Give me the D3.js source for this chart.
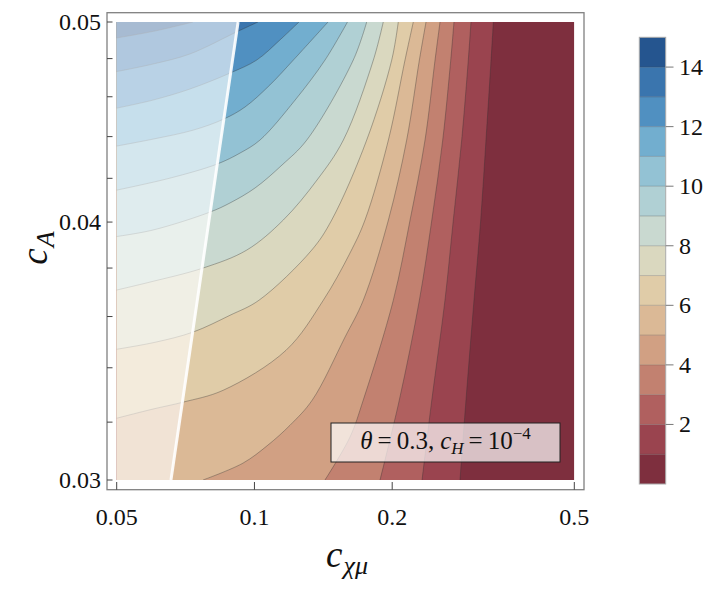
<!DOCTYPE html>
<html>
<head>
<meta charset="utf-8">
<script src="https://cdn.jsdelivr.net/npm/d3@7"></script>
<style>
body { margin: 0; background: #fff; }
text { font-family: "Liberation Serif", "Times New Roman", Times, serif; fill: #111; }
</style>
</head>
<body>
<div id="chart"></div>
<script>
// contour levels and the colours of the bands between them (0-1 ... 14-15)
const levels = [1, 2, 3, 4, 5, 6, 7, 8, 9, 10, 11, 12, 13, 14];
const bandColors = ["#7e2f3e", "#9a444f", "#b0605f", "#c28170", "#d1a083", "#dbb996", "#e0cca8",
    "#dad8bf", "#c9d9d0", "#b0d0d4", "#93c2d4", "#72aecf", "#5090c1", "#3a75ae", "#25558f"];

// iso-lines, [c_chi_mu, c_A], from the lower/left edge to the top edge
const iso1 = [[0.2813, 0.03], [0.2899, 0.0328], [0.3018, 0.03666], [0.3122, 0.04009], [0.3206, 0.04383], [0.3289, 0.04792], [0.3327, 0.05]];
const iso2 = [[0.2324, 0.03], [0.2441, 0.0328], [0.2608, 0.03666], [0.2720, 0.04009], [0.2837, 0.04383], [0.2933, 0.04792], [0.2973, 0.05]];
const iso3 = [[0.1881, 0.03], [0.2073, 0.0328], [0.2293, 0.03666], [0.2441, 0.04009], [0.2579, 0.04383], [0.2685, 0.04792], [0.2729, 0.05]];
const iso4 = [[0.1426, 0.03], [0.1617, 0.03147], [0.1729, 0.0328], [0.2011, 0.03666], [0.2188, 0.04009], [0.2359, 0.04383], [0.2481, 0.04792], [0.2544, 0.05]];
const iso5 = [[0.0772, 0.03], [0.0944, 0.03057], [0.1070, 0.03119], [0.1196, 0.03189], [0.1338, 0.0328], [0.1577, 0.03518], [0.1729, 0.03666], [0.1962, 0.04009], [0.2151, 0.04383], [0.2293, 0.04792], [0.2371, 0.05]];
const iso6 = [[0.05, 0.03214], [0.0600, 0.03247], [0.0698, 0.03272], [0.0855, 0.03316], [0.1172, 0.03467], [0.1414, 0.03666], [0.1617, 0.03864], [0.1744, 0.04009], [0.1962, 0.04383], [0.2133, 0.04792], [0.2224, 0.05]];
const iso7 = [[0.05, 0.03471], [0.0606, 0.03498], [0.0734, 0.03538], [0.0884, 0.03605], [0.1023, 0.03666], [0.1334, 0.03877], [0.1475, 0.04009], [0.1759, 0.04383], [0.1995, 0.04792], [0.2062, 0.05]];
const iso8 = [[0.05, 0.03708], [0.0591, 0.03741], [0.0772, 0.03800], [0.0962, 0.03877], [0.1156, 0.04009], [0.1370, 0.04192], [0.1564, 0.04383], [0.1819, 0.04792], [0.1912, 0.05]];
const iso9 = [[0.05, 0.03936], [0.0601, 0.03965], [0.0800, 0.04045], [0.0884, 0.04086], [0.1003, 0.04155], [0.1149, 0.04263], [0.1301, 0.04383], [0.1644, 0.04792], [0.1759, 0.05]];
const iso10 = [[0.05, 0.04145], [0.0654, 0.04201], [0.0828, 0.04267], [0.0930, 0.04320], [0.1028, 0.04383], [0.1227, 0.04583], [0.1426, 0.04792], [0.1597, 0.05]];
const iso11 = [[0.05, 0.04354], [0.0601, 0.04388], [0.0735, 0.04432], [0.0857, 0.04487], [0.0954, 0.04548], [0.1081, 0.04661], [0.1216, 0.04792], [0.1448, 0.05]];
const iso12 = [[0.05, 0.04542], [0.0600, 0.04583], [0.0723, 0.04640], [0.0886, 0.04724], [0.1011, 0.04792], [0.1137, 0.04901], [0.1251, 0.05]];
const iso13 = [[0.05, 0.04731], [0.0600, 0.04771], [0.0723, 0.04825], [0.0914, 0.04945], [0.1018, 0.05]];
const iso14 = [[0.05, 0.04912], [0.0606, 0.04950], [0.0734, 0.05]];
const isolines = [iso1, iso2, iso3, iso4, iso5, iso6, iso7, iso8, iso9, iso10, iso11, iso12, iso13, iso14];

// excluded region boundary (white line)
const boundary = [[0.0657, 0.03], [0.0921, 0.05]];

const xDomain = [0.05, 0.5];
const yDomain = [0.03, 0.05];
const xTicks = [0.05, 0.1, 0.2, 0.5];
const yTicks = [0.03, 0.04, 0.05];
const yMinorTicks = [0.032, 0.034, 0.036, 0.038, 0.042, 0.044, 0.046, 0.048];
const barDomain = [0, 15];
const barTicks = [2, 4, 6, 8, 10, 12, 14];

let width = 720, height = 592;
let svg = d3.select("#chart").append("svg").attr("width", width).attr("height", height);

let x = d3.scaleLog().domain(xDomain).range([116.7, 574.3]);
let y = d3.scaleLog().domain(yDomain).range([480, 22]);
let smooth = d3.line().x(d => x(d[0])).y(d => y(d[1])).curve(d3.curveCatmullRom.alpha(0.5));
let straight = d3.line().x(d => x(d[0])).y(d => y(d[1]));

svg.append("clipPath").attr("id", "plotClip").append("rect")
    .attr("x", x(xDomain[0])).attr("y", y(yDomain[1]))
    .attr("width", x(xDomain[1]) - x(xDomain[0])).attr("height", y(yDomain[0]) - y(yDomain[1]));

let plot = svg.append("g").attr("clip-path", "url(#plotClip)");

plot.append("rect")
    .attr("x", x(xDomain[0])).attr("y", y(yDomain[1]))
    .attr("width", x(xDomain[1]) - x(xDomain[0])).attr("height", y(yDomain[0]) - y(yDomain[1]))
    .attr("fill", bandColors[0]);

// region above each level: iso-line, then round the top-left corner
isolines.forEach(function (pts, i) {
    let corners = [[xDomain[0], yDomain[1]]];
    if (pts[0][1] === yDomain[0]) corners.push([xDomain[0], yDomain[0]]);
    let d = smooth(pts) + corners.map(c => "L" + x(c[0]) + "," + y(c[1])).join("") + "Z";
    plot.append("path").attr("d", d).attr("fill", bandColors[levels[i]]);
});

plot.selectAll("path.iso").data(isolines).join("path")
    .attr("class", "iso")
    .attr("d", smooth)
    .attr("fill", "none")
    .attr("stroke", "#333")
    .attr("stroke-opacity", 0.45)
    .attr("stroke-width", 0.8);

// washed out excluded region
plot.append("path")
    .attr("d", straight([[xDomain[0], yDomain[0]], boundary[0], boundary[1], [xDomain[0], yDomain[1]]]) + "Z")
    .attr("fill", "#fff").attr("fill-opacity", 0.6);

plot.append("path").attr("d", straight(boundary))
    .attr("stroke", "#fff").attr("stroke-width", 3).attr("stroke-opacity", 0.9).attr("fill", "none");

// frame
svg.append("rect").attr("x", 107).attr("y", 12.7).attr("width", 477).attr("height", 477)
    .attr("fill", "none").attr("stroke", "#808080").attr("stroke-width", 1.3);

svg.selectAll("line.xt").data(xTicks).join("line")
    .attr("x1", d => x(d)).attr("x2", d => x(d)).attr("y1", 489.7).attr("y2", 482)
    .attr("stroke", "#444").attr("stroke-width", 1);
svg.selectAll("text.xl").data(xTicks).join("text")
    .attr("class", "xl").attr("x", d => x(d)).attr("y", 525)
    .attr("text-anchor", "middle").attr("font-size", 24).text(d => String(d));

svg.selectAll("line.yt").data(yTicks.concat(yMinorTicks)).join("line")
    .attr("x1", 107).attr("x2", 112.5).attr("y1", d => y(d)).attr("y2", d => y(d))
    .attr("stroke", "#444").attr("stroke-width", 1);
svg.selectAll("text.yl").data(yTicks).join("text")
    .attr("class", "yl").attr("x", 101).attr("y", d => y(d)).attr("dy", "0.33em")
    .attr("text-anchor", "end").attr("font-size", 24).text(d => String(d));

// axis titles
let xt = svg.append("text").attr("x", 347).attr("y", 567).attr("text-anchor", "middle").attr("font-style", "italic");
xt.append("tspan").attr("font-size", 37).text("c");
xt.append("tspan").attr("font-size", 26).attr("dx", 1).attr("dy", 7).text("χμ");

let yt = svg.append("text").attr("transform", "translate(47,248) rotate(-90)").attr("text-anchor", "middle").attr("font-style", "italic");
yt.append("tspan").attr("font-size", 37).text("c");
yt.append("tspan").attr("font-size", 26).attr("dx", 1).attr("dy", 7).text("A");

// parameter label
svg.append("rect").attr("x", 331).attr("y", 423).attr("width", 229).attr("height", 39)
    .attr("fill", "#fff").attr("fill-opacity", 0.7).attr("stroke", "#222").attr("stroke-width", 1);
let lab = svg.append("text").attr("x", 445.5).attr("y", 449).attr("text-anchor", "middle").attr("font-size", 25);
lab.append("tspan").attr("font-style", "italic").text("θ");
lab.append("tspan").attr("dx", 5).text("=");
lab.append("tspan").attr("dx", 5).text("0.3,");
lab.append("tspan").attr("dx", 6).attr("font-style", "italic").text("c");
lab.append("tspan").attr("font-style", "italic").attr("font-size", 17).attr("dy", 5).text("H");
lab.append("tspan").attr("dx", 5).attr("dy", -5).text("=");
lab.append("tspan").attr("dx", 5).text("10");
lab.append("tspan").attr("font-size", 17).attr("dy", -10).text("−4");

// colour bar
let bar = d3.scaleLinear().domain(barDomain).range([484, 37.3]);
let bands = d3.range(barDomain[0], barDomain[1]);
let cb = svg.append("g");
cb.selectAll("rect").data(bands).join("rect")
    .attr("x", 639.3).attr("width", 26.4)
    .attr("y", d => bar(d + 1)).attr("height", d => bar(d) - bar(d + 1))
    .attr("fill", d => bandColors[d]);
cb.selectAll("line.sep").data(levels).join("line")
    .attr("class", "sep").attr("x1", 639.3).attr("x2", 665.7)
    .attr("y1", d => bar(d)).attr("y2", d => bar(d))
    .attr("stroke", "#444").attr("stroke-opacity", 0.35).attr("stroke-width", 0.8);
cb.append("rect").attr("x", 639.3).attr("y", bar(barDomain[1])).attr("width", 26.4)
    .attr("height", bar(barDomain[0]) - bar(barDomain[1]))
    .attr("fill", "none").attr("stroke", "#aaa").attr("stroke-width", 1);
cb.selectAll("line.bt").data(barTicks).join("line")
    .attr("class", "bt").attr("x1", 665.7).attr("x2", 673.5)
    .attr("y1", d => bar(d)).attr("y2", d => bar(d))
    .attr("stroke", "#777").attr("stroke-width", 1);
cb.selectAll("text").data(barTicks).join("text")
    .attr("x", 679).attr("y", d => bar(d)).attr("dy", "0.33em")
    .attr("font-size", 24).text(d => d);
</script>
</body>
</html>
